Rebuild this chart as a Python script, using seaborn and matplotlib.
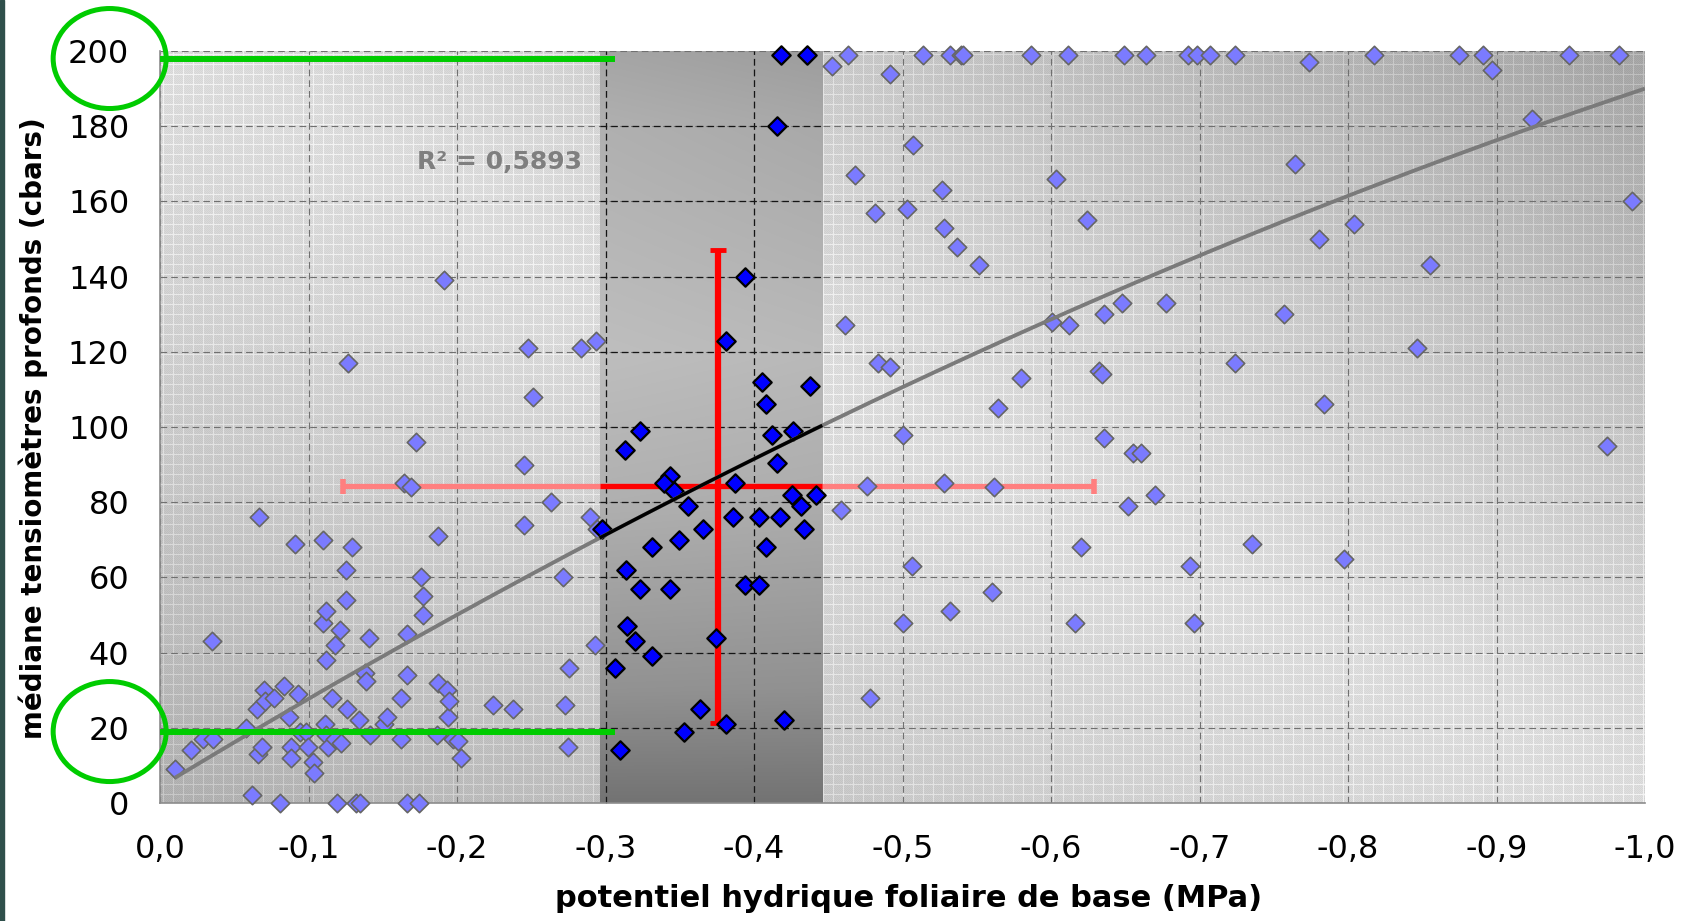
import numpy as np
import matplotlib
matplotlib.use("Agg")
import matplotlib.pyplot as plt
import seaborn as sns
from matplotlib.patches import Ellipse, Rectangle

# ---------------- data ----------------
# all measurements (leaf water potential, MPa ; deep tensiometer median, cbars)
light_x = [-0.010, -0.021, -0.029, -0.036, -0.035, -0.058, -0.062, -0.065, -0.066, -0.0665,
           -0.069, -0.070, -0.071, -0.0765, -0.081, -0.0835, -0.087, -0.088, -0.088, -0.091,
           -0.093, -0.0945, -0.0985, -0.0995, -0.103, -0.104, -0.110, -0.110, -0.111, -0.112,
           -0.112, -0.112, -0.113, -0.1155, -0.118, -0.118, -0.119, -0.1215, -0.122, -0.1255,
           -0.1255, -0.1265, -0.126, -0.129, -0.132, -0.135, -0.134, -0.138, -0.1385, -0.141,
           -0.1415, -0.151, -0.153, -0.1625, -0.1625, -0.164, -0.1665, -0.1665, -0.1665, -0.169,
           -0.1725, -0.1745, -0.1755, -0.177, -0.177, -0.1865, -0.1875, -0.1875, -0.191, -0.1935,
           -0.194, -0.1945, -0.197, -0.2005, -0.203, -0.224, -0.238, -0.245, -0.245, -0.2475,
           -0.2515, -0.2635, -0.2715, -0.2725, -0.2755, -0.275, -0.2835, -0.2895, -0.2928, -0.2935,
           -0.2945,
           -0.4527, -0.4588, -0.4612, -0.4632, -0.4677, -0.4758, -0.478, -0.4818, -0.4835, -0.4917,
           -0.4919, -0.5005, -0.5033, -0.5000, -0.5062, -0.5068, -0.514, -0.5267, -0.5278, -0.5279,
           -0.5319, -0.5319, -0.5366, -0.5393, -0.5409, -0.5512, -0.5600, -0.5615, -0.564, -0.5801,
           -0.5868, -0.6007, -0.6032, -0.6117, -0.6118, -0.6161, -0.6199, -0.624, -0.6326, -0.6345,
           -0.6358, -0.6360, -0.6494, -0.6478, -0.652, -0.6555, -0.6605, -0.6637, -0.670, -0.6773,
           -0.6925, -0.6937, -0.6962, -0.6985, -0.7074, -0.7240, -0.7241, -0.7352, -0.7569, -0.7643,
           -0.774, -0.7804, -0.7838, -0.797, -0.804, -0.8174, -0.8467, -0.8553, -0.8746, -0.891,
           -0.8968, -0.9237, -0.9485, -0.9747, -0.9826, -0.991]
light_y = [9, 14, 17, 17, 43, 20, 2, 25, 13, 76,
           15, 30, 27, 28, 0, 31, 23, 15, 12, 69,
           29, 19, 19, 15, 11, 8, 70, 48, 21, 51,
           38, 18, 15, 28, 42, 17, 0, 46, 16, 62,
           54, 117, 25, 68, 0, 0, 22, 34.5, 32.5, 44,
           18, 21, 23, 28, 17, 85, 45, 34, 0, 84,
           96, 0, 60, 55, 50, 18, 71, 32, 139, 30,
           23, 27, 17, 16.5, 12, 26, 25, 90, 74, 121,
           108, 80, 60, 26, 36, 15, 121, 76, 42, 123,
           73,
           196, 78, 127, 199, 167, 84.3, 28, 157, 117, 194,
           116, 98, 158, 48, 63, 175, 199, 163, 153, 85,
           199, 51, 148, 199, 199, 143, 56, 84, 105, 113,
           199, 128, 166, 199, 127, 48, 68, 155, 115, 114,
           130, 97, 199, 133, 79, 93, 93, 199, 82, 133,
           199, 63, 48, 199, 199, 117, 199, 69, 130, 170,
           197, 150, 106, 65, 154, 199, 121, 143, 199, 199,
           195, 182, 199, 95, 199, 160]

# measurements inside the selected potential class
dark_x = [-0.2975, -0.3065, -0.3095, -0.313, -0.3136, -0.3146, -0.3197, -0.3235, -0.3235, -0.331,
          -0.3315, -0.3436, -0.3436, -0.3395, -0.3458, -0.3496, -0.3528, -0.3555, -0.3638, -0.3656,
          -0.3742, -0.3813, -0.3814, -0.386, -0.3875, -0.394, -0.394, -0.4035, -0.4036, -0.4057,
          -0.4079, -0.408, -0.4118, -0.4158, -0.4158, -0.4176, -0.4181, -0.420, -0.4256, -0.426,
          -0.4314, -0.4339, -0.4357, -0.438, -0.4416]
dark_y = [73, 36, 14, 94, 62, 47, 43, 99, 57, 39,
          68, 87, 57, 85, 83, 70, 19, 79, 25, 73,
          44, 123, 21, 76, 85, 58, 140, 76, 58, 112,
          106, 68, 98, 90.4, 180, 76, 199, 22, 82, 99,
          79, 73, 199, 111, 82]

band_x = [-0.296, -0.446]              # selected potential class
red_center = [-0.376, 84.3]            # mean point
red_err = [0.2528, 62.9]               # +/- standard deviation (x, y)
green_levels = [198, 19]               # tensiometer thresholds
green_x_end = -0.3067
trend_coef = [-53.8, -239.5, 4.3]      # polynomial trend (order 2)
trend_x_range = [-0.010, -1.0]
r2_label = "R² = 0,5893"

x_ticks = [0.0, -0.1, -0.2, -0.3, -0.4, -0.5, -0.6, -0.7, -0.8, -0.9, -1.0]
x_tick_labels = ["0,0", "-0,1", "-0,2", "-0,3", "-0,4", "-0,5", "-0,6", "-0,7", "-0,8", "-0,9", "-1,0"]
y_ticks = [0, 20, 40, 60, 80, 100, 120, 140, 160, 180, 200]

# ---------------- style ----------------
sns.set_style("white")
plt.rcParams["font.family"] = ["DejaVu Sans"]
plt.rcParams["axes.unicode_minus"] = False
plt.rcParams["lines.scale_dashes"] = False
plt.rcParams["text.color"] = "black"
plt.rcParams["axes.labelcolor"] = "black"
plt.rcParams["xtick.color"] = "black"
plt.rcParams["ytick.color"] = "black"

FW, FH = 1698, 921
fig = plt.figure(figsize=(FW / 100, FH / 100), dpi=100, facecolor="white")
AX_L, AX_B, AX_W, AX_H = 160, 118, 1485, 752
ax = fig.add_axes([AX_L / FW, AX_B / FH, AX_W / FW, AX_H / FH])
ax.patch.set_visible(False)

# textured plot-area background (diagonal shading + fine white mesh)
rows, cols = np.indices((AX_H, AX_W))
u = cols / (AX_W - 1)
w = 1 - rows / (AX_H - 1)
d = u + w - 1
base = 220 - 55 * np.clip(d, 0, None) ** 1.3 - 45 * np.clip(-d, 0, None) ** 1.3
tex = base + np.where((rows + cols) % 2 == 0, 4, -4)
mesh = (rows % 10 == 3) | (cols % 10 == 3)
tex = np.where(mesh, np.minimum(base + 24, 246), tex)
tex = np.clip(tex, 0, 255).astype(np.uint8)
fig.figimage(np.dstack([tex] * 3), xo=AX_L, yo=AX_B, origin="upper", zorder=-1)

# shaded class band
nb = 400
t = np.linspace(0, 1, nb)[:, None]
s = np.linspace(0, 1, 60)[None, :]
band_l = np.interp(t, [0, 0.1, 0.4, 0.6, 0.85, 1.0], [165, 176, 190, 176, 146, 115]) - 8 * s * (1 - t)
band_img = np.clip(np.dstack([band_l] * 3) / 255.0, 0, 1)
ax.imshow(band_img, extent=[band_x[0], band_x[1], 0, 200], aspect="auto",
          origin="upper", interpolation="bilinear", zorder=0.2)

ax.set_xlim(0, -1.0)
ax.set_ylim(0, 200)

# dashed major grid
dash = (0, (4.8, 2.9))
ax.set_axisbelow(True)
ax.grid(True, color="#707070", linestyle=dash, linewidth=0.8)
ax.hlines(y_ticks[1:-1], band_x[0], band_x[1], colors="#151515", linestyles=[dash], lw=0.9, zorder=0.6)
ax.vlines([x for x in x_ticks if band_x[1] < x < band_x[0]], 0, 200, colors="#151515",
          linestyles=[dash], lw=0.9, zorder=0.6)

# mean +/- sd cross
ax.errorbar(red_center[0], red_center[1], xerr=red_err[0], fmt="none", ecolor="#ff7f7f",
            elinewidth=3.8, capsize=5.4, capthick=4, zorder=2)
ax.hlines(red_center[1], band_x[0], band_x[1], colors="#ff0000", lw=3.8, zorder=2.1)
ax.errorbar(red_center[0], red_center[1], yerr=red_err[1], fmt="none", ecolor="#ff0000",
            elinewidth=4.5, capsize=6, capthick=3.5, zorder=2.2)

# scatter points
sns.scatterplot(x=light_x, y=light_y, marker="D", s=88, color="#7b7bff", edgecolor="#666666",
                linewidth=1.2, ax=ax, zorder=3, legend=False)
sns.scatterplot(x=dark_x, y=dark_y, marker="D", s=88, color="#0000ff", edgecolor="black",
                linewidth=1.6, ax=ax, zorder=3.1, legend=False)
for c in ax.collections:
    c.set_clip_on(False)

# trend line, highlighted over the class band
tx = np.linspace(trend_x_range[0], trend_x_range[1], 300)
ax.plot(tx, np.polyval(trend_coef, tx), color="#7a7a7a", lw=2.8, zorder=4, solid_capstyle="butt")
tb = np.linspace(band_x[0], band_x[1], 60)
ax.plot(tb, np.polyval(trend_coef, tb), color="black", lw=2.5, zorder=4.1, solid_capstyle="butt")

# threshold markers
for lvl in green_levels:
    ax.plot([0, green_x_end], [lvl, lvl], color="#00cc00", lw=4.3, solid_capstyle="butt",
            zorder=5, clip_on=False)
    ax.add_patch(Ellipse((-0.0339, lvl), 113 / AX_W, 100 / AX_H * 200, transform=ax.get_yaxis_transform(),
                         fill=False, edgecolor="#00cc00", lw=3.6, clip_on=False, zorder=5))

ax.text(-0.173, 170.4, r2_label, color="#7f7f7f", fontsize=18, fontweight="bold",
        ha="left", va="center", zorder=5)

# axes decoration
ax.set_xticks(x_ticks)
ax.set_xticklabels(x_tick_labels)
ax.set_yticks(y_ticks)
ax.set_yticklabels([str(v) for v in y_ticks])
ax.tick_params(axis="y", length=8.6, width=1.2, color="#555555", labelcolor="black", pad=13.5, labelsize=23)
ax.tick_params(axis="x", length=6.5, width=1.2, color="#555555", labelcolor="black", pad=16, labelsize=23)
for side in ("top", "right"):
    ax.spines[side].set_visible(False)
for side in ("left", "bottom"):
    ax.spines[side].set_color("#8c8c8c")
    ax.spines[side].set_linewidth(1.2)

ax.set_xlabel("potentiel hydrique foliaire de base (MPa)", fontsize=22, fontweight="bold", color="black")
ax.xaxis.set_label_coords(0.504, -0.108)
ax.set_ylabel("médiane tensiomètres profonds (cbars)", fontsize=20, fontweight="bold", color="black")
ax.yaxis.set_label_coords(-0.0756, 0.498)

fig.add_artist(Rectangle((0, 0), 4 / FW, 1, transform=fig.transFigure, color="#2f4f4b", zorder=10))

fig.savefig("out.png", dpi=100, facecolor="white")
